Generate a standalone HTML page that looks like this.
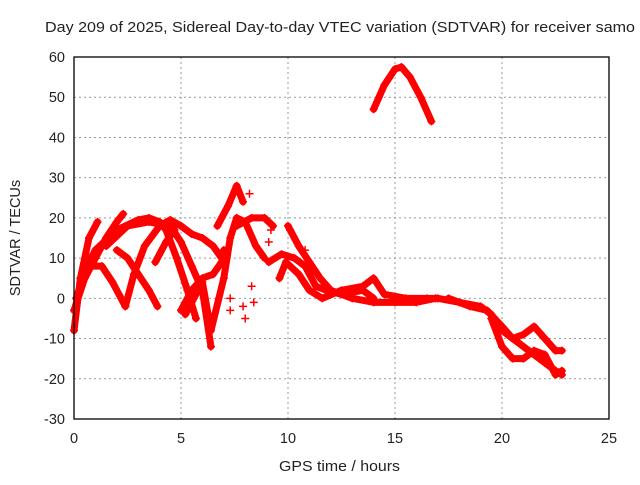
<!DOCTYPE html>
<html><head><meta charset="utf-8"><style>
body{margin:0;background:#fff;width:640px;height:480px;overflow:hidden}
svg{font-family:"Liberation Sans",sans-serif}
</style></head><body>
<svg id="c" width="640" height="480">
<text x="45" y="32" font-size="14.5" fill="#222" textLength="590" lengthAdjust="spacingAndGlyphs">Day 209 of 2025, Sidereal Day-to-day VTEC variation (SDTVAR) for receiver samo</text>
<text x="279" y="471" font-size="14.5" fill="#222" textLength="121" lengthAdjust="spacingAndGlyphs">GPS time / hours</text>
<text transform="translate(20,238) rotate(-90)" font-size="14.5" fill="#222" text-anchor="middle">SDTVAR / TECUs</text>
<g id="grid"></g><g id="marks"></g><g id="axes"></g>
</svg>
<script>
const xTicks=[0,5,10,15,20,25];
const yTicks=[-30,-20,-10,0,10,20,30,40,50,60];
const trackA=[[14,47],[14.5,53],[15,57],[15.3,57.5],[15.7,55],[16.2,50],[16.7,44]];
const trackB=[[0,-8],[0.3,5],[0.7,15],[1.1,19]];
const trackC=[[0,-3],[0.5,5],[1,10],[1.5,15],[2,19],[2.3,21]];
const trackD=[[0.1,0],[0.6,8],[1.3,8],[1.8,4],[2.4,-2]];
const trackE=[[0.3,5],[1,12],[2,17],[3,19.5],[3.5,20],[4,19],[4.3,17],[4.8,10],[5.3,2],[5.7,-5]];
const trackF=[[2,12],[2.5,10],[3,6],[3.5,2],[3.9,-2]];
const trackG=[[2.4,-2],[2.8,6],[3.3,13],[4,18],[4.5,19.5],[5,18],[5.5,16],[6,15],[6.5,13],[6.9,10]];
const trackH=[[1.5,13],[2.5,18],[3.5,19],[4.5,18],[5,14],[5.5,8],[6,2],[6.4,-12]];
const trackI=[[3.8,9],[4.3,14],[4.7,17]];
const trackJ=[[5,-3],[5.5,2],[6,5],[6.5,6],[6.9,9],[7,12]];
const trackK=[[5.2,-4],[6,4],[6.4,-8],[7,5],[7.3,15],[7.6,20],[8,19],[8.5,13],[8.9,10]];
const trackL=[[6.7,18],[7.2,23],[7.6,28],[7.9,24]];
const trackM=[[7.6,18],[8.3,20],[8.9,20],[9.3,18]];
const trackN=[[9.1,9],[9.7,11],[10.3,10],[10.8,8],[11.3,3],[11.8,2],[12.5,1],[13.5,2],[14,0]];
const trackO=[[9.6,5],[9.9,9],[10.5,6],[11,2],[11.6,0],[12.5,2],[13.5,3],[14,5],[14.5,1],[15.5,0],[16.5,0],[16.9,0]];
const trackP=[[10,18],[10.5,13],[11,9],[11.5,5],[12,2],[13,0],[14,-1],[15,-1],[16,-1],[16.9,0]];
const trackQ=[[17,0],[18,-1],[19,-2],[19.5,-4],[20,-8],[20.5,-10],[21,-12],[21.5,-14],[22,-16],[22.5,-18],[22.8,-19]];
const trackR=[[17.5,0],[18.5,-2],[19.3,-3],[20,-7],[20.5,-10],[21,-9],[21.5,-7],[22,-10],[22.5,-13],[22.8,-13]];
const trackS=[[19.5,-5],[20,-12],[20.5,-15],[21,-15],[21.5,-13],[22,-14],[22.5,-19],[22.8,-18]];
const sparse=[[7.3,0],[7.3,-3],[7.9,-2],[8,-5],[8.3,3],[8.4,-1],[9.2,17],[9.1,14],[8.2,26],[10.1,17],[10.8,12]];
const tracks=[trackA,trackB,trackC,trackD,trackE,trackF,trackG,trackH,trackI,trackJ,trackK,trackL,trackM,trackN,trackO,trackP,trackQ,trackR,trackS];
const L=74,R=609,T=57,B=419;
const sx=v=>L+(v-0)/25*(R-L), sy=v=>B-(v+30)/90*(B-T);
const NS="http://www.w3.org/2000/svg";
function mk(t,a,p){const e=document.createElementNS(NS,t);for(const k in a)e.setAttribute(k,a[k]);p.appendChild(e);return e;}
const grid=document.getElementById('grid'),axes=document.getElementById('axes'),marks=document.getElementById('marks');
xTicks.forEach(v=>{
 if(v>0&&v<25){const g=mk('line',{x1:sx(v),x2:sx(v),y1:T,y2:B,stroke:'#999','stroke-dasharray':'2,3','stroke-width':1},grid);
 }
 const t=mk('text',{x:sx(v),y:B+24,'font-size':14.5,'text-anchor':'middle',fill:'#222'},axes);t.textContent=v;
 
});
yTicks.forEach(v=>{
 if(v>-30&&v<60){const g=mk('line',{x1:L,x2:R,y1:sy(v),y2:sy(v),stroke:'#999','stroke-dasharray':'2,3','stroke-width':1},grid);
 }
 const t=mk('text',{x:L-9,y:sy(v)+5,'font-size':14.5,'text-anchor':'end',fill:'#222'},axes);t.textContent=v;
 
});
const fr=mk('rect',{x:L,y:T,width:R-L,height:B-T,fill:'none',stroke:'#000','stroke-width':1.3},axes);

function plus(x,y){const p=mk('path',{d:`M${sx(x)-4},${sy(y)}h8M${sx(x)},${sy(y)-4}v8`,stroke:'#f00','stroke-width':1.5},marks);
 }
tracks.forEach(tr=>{
 const pl=mk('polyline',{points:tr.map(p=>sx(p[0])+','+sy(p[1])).join(' '),fill:'none',stroke:'#f00','stroke-width':7,'stroke-linejoin':'round','stroke-linecap':'round'},marks);
 
 tr.forEach(p=>plus(p[0],p[1]));
});
sparse.forEach(p=>plus(p[0],p[1]));
</script>
</body></html>
